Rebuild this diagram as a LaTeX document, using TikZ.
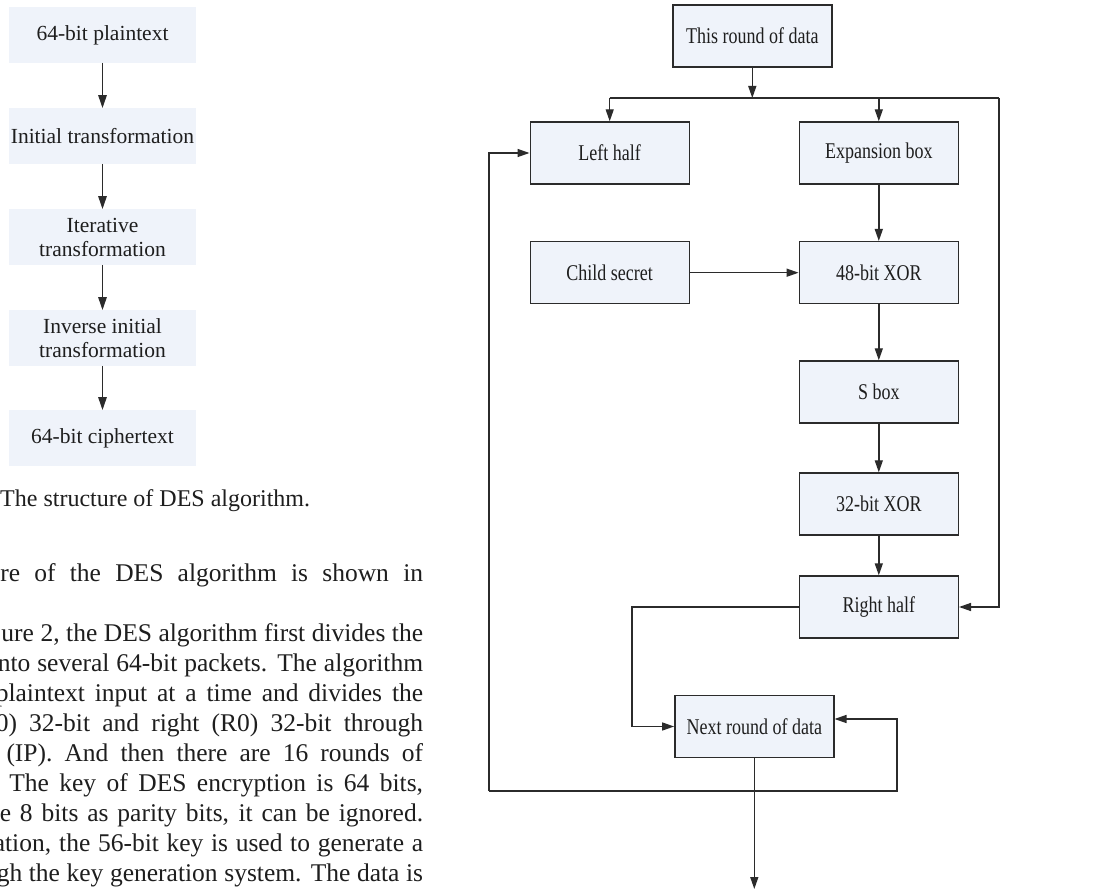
\documentclass[tikz,border=0pt]{standalone}
\usepackage{fontspec}
\setmainfont{Liberation Serif}
\usetikzlibrary{arrows.meta}
\definecolor{boxfill}{HTML}{EFF3FA}
\definecolor{edge}{HTML}{2B2B2B}
\definecolor{txt}{HTML}{1E1E1E}
\tikzset{
  dbox/.style={draw=edge, line width=1.4pt, fill=boxfill, minimum width=159pt, minimum height=62pt, inner sep=0pt, text=txt, font=\fontsize{22.5}{26}\selectfont},
  fbox/.style={fill=boxfill, minimum width=187pt, minimum height=55.5pt, inner sep=0pt, align=center, text=txt, font=\fontsize{21.5}{24}\selectfont},
  conn/.style={draw=edge, line width=1.4pt, -{Triangle[length=12pt,width=8pt]}},
  conntwo/.style={draw=edge, line width=1.4pt, -{Triangle[length=13pt,width=8.5pt]}},
  plain/.style={draw=edge, line width=1.4pt},
  para/.style={anchor=base east, inner sep=0pt, text=txt, font=\fontsize{25.5}{30}\selectfont},
}
\newcommand{\cnd}[1]{\scalebox{0.8}[1]{#1}}
\begin{document}
\begin{tikzpicture}[x=1pt,y=-1pt]
\useasboundingbox (0,0) rectangle (1101,890);
\fill[white] (0,0) rectangle (1101,890);

% ---------- left flowchart ----------
\node[fbox] (b1) at (102.5,35) {64-bit plaintext};
\node[fbox] (b2) at (102.5,136) {Initial transformation};
\node[fbox] (b3) at (102.5,237) {Iterative\\transformation};
\node[fbox] (b4) at (102.5,338) {Inverse initial\\transformation};
\node[fbox] (b5) at (102.5,438) {64-bit ciphertext};
\draw[conntwo] (b1) -- (b2);
\draw[conntwo] (b2) -- (b3);
\draw[conntwo] (b3) -- (b4);
\draw[conntwo] (b4) -- (b5);

\node[anchor=base west, inner sep=0pt, text=txt, font=\fontsize{24}{28}\selectfont] (cap) at (0,507) {The structure of DES algorithm.};

% ---------- paragraph (cut at the left edge, as in the reference) ----------
\begin{scope}
\clip (0,0) rectangle (1101,890);
\node[para] (p1) at (423.3,581.7) {\makebox[422.8pt][s]{re of the DES algorithm is shown in}};
\node[para] (p2) at (423.3,641.7) {\makebox[421.6pt][s]{ure 2, the DES algorithm first divides the}};
\node[para] (p3) at (423.3,671.7) {\makebox[425.3pt][s]{nto several 64-bit packets. The algorithm}};
\node[para] (p4) at (423.3,701.7) {\makebox[427.3pt][s]{plaintext input at a time and divides the}};
\node[para] (p5) at (423.3,731.7) {\makebox[427.3pt][s]{0) 32-bit and right (R0) 32-bit through}};
\node[para] (p6) at (423.3,761.7) {\makebox[416.6pt][s]{(IP). And then there are 16 rounds of}};
\node[para] (p7) at (423.3,791.7) {\makebox[413.8pt][s]{The key of DES encryption is 64 bits,}};
\node[para] (p8) at (423.3,821.7) {\makebox[423.3pt][s]{e 8 bits as parity bits, it can be ignored.}};
\node[para] (p9) at (423.3,851.7) {\makebox[429.3pt][s]{ation, the 56-bit key is used to generate a}};
\node[para] (p10) at (423.3,881.7) {\makebox[426.3pt][s]{gh the key generation system. The data is}};
\end{scope}

% ---------- right diagram ----------
\node[dbox] (trd) at (752.3,36) {\cnd{This round of data}};
\node[dbox] (lh) at (609.7,153) {\cnd{Left half}};
\node[dbox] (eb) at (878.8,153) {\cnd{Expansion box}};
\node[dbox] (cs) at (609.7,272.7) {\cnd{Child secret}};
\node[dbox] (x48) at (878.8,272.7) {\cnd{48-bit XOR}};
\node[dbox] (sb) at (878.8,392) {\cnd{S box}};
\node[dbox] (x32) at (878.8,504) {\cnd{32-bit XOR}};
\node[dbox] (rh) at (878.8,607) {\cnd{Right half}};
\node[dbox] (nrd) at (754.3,726.5) {\cnd{Next round of data}};

\coordinate (split) at (752.3,98);
\coordinate (tr) at (999,98);
\coordinate (rl) at (632,607);
\coordinate (lbot) at (489,791);
\coordinate (rbot) at (897,791);
\coordinate (out) at (754.3,889);

\draw[conn] (trd.south) -- (split);
\draw[plain] (lh.north |- split) -- (tr);
\draw[conn] (lh.north |- split) -- (lh.north);
\draw[conn] (eb.north |- split) -- (eb.north);
\draw[conn] (tr) |- (rh.east);

\draw[conn] (eb) -- (x48);
\draw[conn] (cs) -- (x48);
\draw[conn] (x48) -- (sb);
\draw[conn] (sb) -- (x32);
\draw[conn] (x32) -- (rh);

\draw[conn] (rh.west) -- (rl) |- (nrd.west);
\draw[conn] (nrd.south) -- (out);
\draw[conn] (lbot) |- (lh.west);
\draw[conn] (lbot) -- (rbot) |- ([yshift=7.5pt]nrd.east);
\end{tikzpicture}
\end{document}
